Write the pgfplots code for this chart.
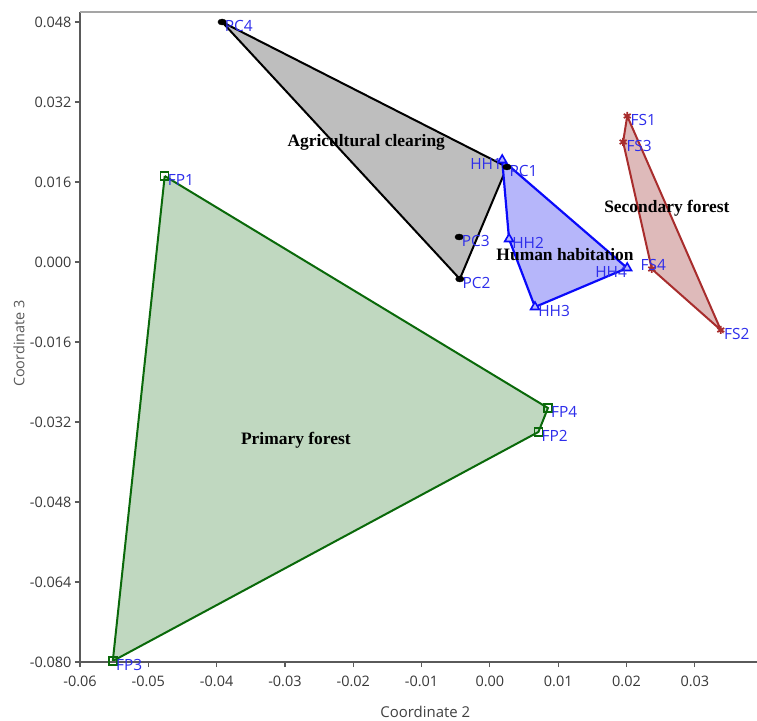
\documentclass[border=0pt]{standalone}
\usepackage{pgfplots}
\usepackage{pgfplotstable}
\pgfplotsset{compat=1.18}
\usepackage{fontspec}
\setmainfont{Open Sans}
\newfontfamily\timesf{Liberation Serif}
\definecolor{axgray}{RGB}{90,90,90}
\definecolor{topgray}{RGB}{165,165,165}
\definecolor{lblblue}{RGB}{45,45,235}
\definecolor{pcfill}{RGB}{190,190,190}
\definecolor{hhline}{RGB}{10,10,250}
\definecolor{hhfill}{RGB}{182,182,250}
\definecolor{fsline}{RGB}{168,45,45}
\definecolor{fsfill}{RGB}{222,186,186}
\definecolor{fpline}{RGB}{10,105,10}
\definecolor{fpfill}{RGB}{192,216,192}

\pgfplotstableread{
x y label
0.0025 0.0190 PC1
-0.0044 -0.0034 PC2
-0.0045 0.0050 PC3
-0.0392 0.0480 PC4
}\pc
\pgfplotstableread{
x y label
0.0028 0.0046 HH2
0.0066 -0.0090 HH3
}\hhw
\pgfplotstableread{
x y label
0.0018 0.0204 HH1
0.0201 -0.0012 HH4
}\hhe
\pgfplotstableread{
x y label
0.0201 0.0292 FS1
0.0338 -0.0136 FS2
0.0195 0.0240 FS3
}\fsw
\pgfplotstableread{
x y label
0.0237 -0.0014 FS4
}\fss
\pgfplotstableread{
x y label
-0.0476 0.0172 FP1
0.0071 -0.0340 FP2
-0.0552 -0.0798 FP3
0.0085 -0.0292 FP4
}\fp

\pgfplotsset{ptlabels/.style={
  nodes near coords={\pgfplotspointmeta},
  point meta=explicit symbolic,
  every node near coord/.append style={anchor=#1, font=\fontsize{15.5}{17}\selectfont, text=lblblue, inner sep=1bp, xshift=1.5bp, yshift=-4bp},
}}

\begin{document}
\begin{tikzpicture}
\begin{axis}[
  scale only axis,
  width=677bp, height=650bp,
  xmin=-0.06, xmax=0.0391,
  ymin=-0.080, ymax=0.050,
  xtick={-0.06,-0.05,...,0.031},
  ytick={-0.080,-0.064,...,0.049},
  scaled ticks=false,
  xtick pos=left, ytick pos=left,
  tick align=outside,
  major tick length=5bp,
  tick style={axgray, line width=1.2bp},
  axis line style={draw=none},
  clip=false,
  /pgf/number format/assume math mode=true,
  xticklabel style={/pgf/number format/fixed, /pgf/number format/fixed zerofill, /pgf/number format/precision=2, yshift=-6bp},
  yticklabel style={/pgf/number format/fixed, /pgf/number format/fixed zerofill, /pgf/number format/precision=3},
  ticklabel style={font=\fontsize{14.5}{16}\selectfont, text=black!78},
  xlabel={Coordinate 2},
  ylabel={Coordinate 3},
  xlabel style={font=\fontsize{15}{17}\selectfont, text=black!75, at={(axis description cs:0.51,0)}, anchor=north, yshift=-41bp},
  ylabel style={font=\fontsize{14.5}{16}\selectfont, text=black!65, at={(axis description cs:0,0.49)}, anchor=south, xshift=0bp, yshift=52bp},
]
% hull polygons
\addplot[draw=black, line width=2bp, fill=pcfill] coordinates {(-0.0392,0.0480) (0.0025,0.0190) (-0.0044,-0.0034) (-0.0392,0.0480)};
\addplot[draw=hhline, line width=2.2bp, fill=hhfill] coordinates {(0.0018,0.0204) (0.0201,-0.0012) (0.0066,-0.0090) (0.0028,0.0046) (0.0018,0.0204)};
\addplot[draw=fsline, line width=2bp, fill=fsfill] coordinates {(0.0201,0.0292) (0.0338,-0.0136) (0.0237,-0.0014) (0.0195,0.0240) (0.0201,0.0292)};
\addplot[draw=fpline, line width=2bp, fill=fpfill] coordinates {(-0.0476,0.0172) (0.0085,-0.0292) (0.0071,-0.0340) (-0.0552,-0.0798) (-0.0476,0.0172)};
% points
\addplot[ptlabels=west, only marks, mark=*, mark size=3bp, mark options={black, xscale=1.4}] table[x=x,y=y,meta=label] {\pc};
\addplot[ptlabels=west, only marks, mark=triangle*, mark size=5bp, mark options={hhline, fill=hhfill, line width=1.6bp}] table[x=x,y=y,meta=label] {\hhw};
\addplot[ptlabels=east, only marks, mark=triangle*, mark size=5bp, mark options={hhline, fill=hhfill, line width=1.6bp}] table[x=x,y=y,meta=label] {\hhe};
\addplot[ptlabels=west, only marks, mark=asterisk, mark size=4bp, mark options={fsline, line width=1.8bp}] table[x=x,y=y,meta=label] {\fsw};
\addplot[ptlabels=south, only marks, mark=asterisk, mark size=4bp, mark options={fsline, line width=1.8bp}] table[x=x,y=y,meta=label] {\fss};
\addplot[ptlabels=west, only marks, mark=square, mark size=4bp, mark options={fpline, line width=1.5bp}] table[x=x,y=y,meta=label] {\fp};
% group labels
\node[font=\timesf\bfseries\fontsize{17.5}{19}\selectfont] at (axis cs:-0.0181,0.0240) {Agricultural clearing};
\node[font=\timesf\bfseries\fontsize{17.5}{19}\selectfont] at (axis cs:0.0110,0.0014) {Human habitation};
\node[font=\timesf\bfseries\fontsize{17.5}{19}\selectfont] at (axis cs:0.0259,0.0108) {Secondary forest};
\node[font=\timesf\bfseries\fontsize{17.5}{19}\selectfont] at (axis cs:-0.0284,-0.0356) {Primary forest};
% frame
\draw[axgray, line width=1.5bp] (rel axis cs:0,1) -- (rel axis cs:0,0) -- (rel axis cs:1,0);
\draw[topgray, line width=2bp] (rel axis cs:0,1) -- (rel axis cs:1,1);
\coordinate (bbsw) at (rel axis cs:0,0);
\coordinate (bbne) at (rel axis cs:1,1);
\end{axis}
\pgfresetboundingbox
\path ([xshift=-80bp,yshift=-59bp]bbsw) rectangle ([yshift=12bp]bbne);
\end{tikzpicture}
\end{document}
